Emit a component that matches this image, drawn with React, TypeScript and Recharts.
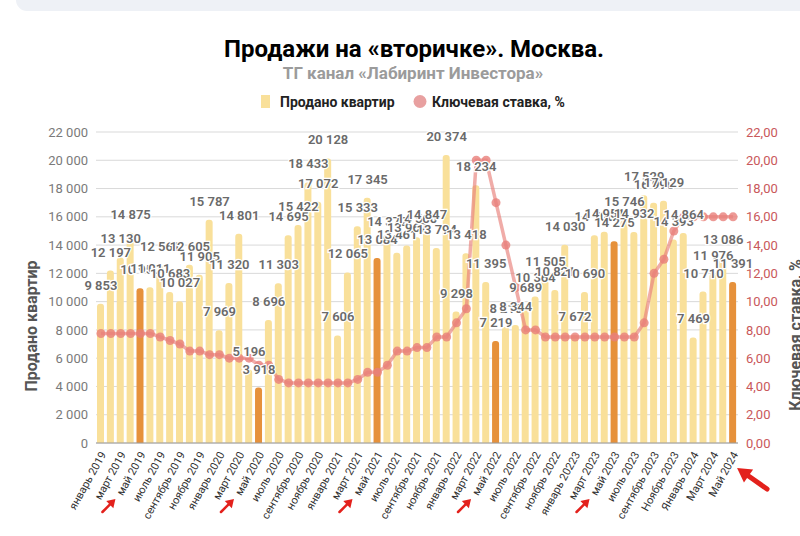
import React from "react";
import {
  ComposedChart,
  Bar,
  Line,
  XAxis,
  YAxis,
  CartesianGrid,
  Cell,
  LabelList,
  ReferenceDot,
} from "recharts";

const months = [
  "январь 2019", "февраль 2019", "март 2019", "апрель 2019", "май 2019", "июнь 2019",
  "июль 2019", "август 2019", "сентябрь 2019", "октябрь 2019", "ноябрь 2019", "декабрь 2019",
  "январь 2020", "февраль 2020", "март 2020", "апрель 2020", "май 2020", "июнь 2020",
  "июль 2020", "август 2020", "сентябрь 2020", "октябрь 2020", "ноябрь 2020", "декабрь 2020",
  "январь 2021", "февраль 2021", "март 2021", "апрель 2021", "май 2021", "июнь 2021",
  "июль 2021", "август 2021", "сентябрь 2021", "октябрь 2021", "ноябрь 2021", "декабрь 2021",
  "январь 2022", "февраль 2022", "март 2022", "апрель 2022", "май 2022", "июнь 2022",
  "июль 2022", "август 2022", "сентябрь 2022", "октябрь 2022", "ноябрь 2022", "декабрь 2022",
  "январь 20223", "февраль 2023", "март 2023", "апрель 2023", "май 2023", "июнь 2023",
  "июль 2023", "август 2023", "сентябрь 2023", "октябрь 2023", "Ноябрь 2023", "декабрь 2023",
  "Январь 2024", "февраль 2024", "Март 2024", "апрель 2024", "Май 2024",
];

const sales = [
  9853, 12197, 13130, 14875, 10950, 11011, 12561, 10683, 10027, 12605, 11905, 15787,
  7969, 11320, 14801, 5196, 3918, 8696, 11303, 14695, 15422, 18433, 17072, 20128,
  7606, 12065, 15333, 17345, 13084, 14372, 13461, 13967, 14560, 14847, 13794, 20374,
  9298, 13418, 18234, 11395, 7219, 8210, 8344, 9689, 10364, 11505, 10821, 14030,
  7672, 10690, 14700, 14951, 14275, 15746, 14932, 17529, 16990, 17129, 14393, 14864,
  7469, 10710, 11976, 13086, 11391,
];

const keyRate = [
  7.75, 7.75, 7.75, 7.75, 7.75, 7.75, 7.5, 7.25, 7.0, 6.5, 6.5, 6.25,
  6.25, 6.0, 6.0, 6.0, 5.5, 5.5, 4.5, 4.25, 4.25, 4.25, 4.25, 4.25,
  4.25, 4.25, 4.5, 5.0, 5.0, 5.5, 6.5, 6.5, 6.75, 6.75, 7.5, 7.5,
  8.5, 9.5, 20, 20, 17, 14, 11, 8, 8, 7.5, 7.5, 7.5,
  7.5, 7.5, 7.5, 7.5, 7.5, 7.5, 7.5, 8.5, 12, 13, 15, 16,
  16, 16, 16, 16, 16,
];

const highlightMonths = ["май 2019", "май 2020", "май 2021", "май 2022", "май 2023", "Май 2024"];
const arrowMonths = ["май 2019", "май 2020", "май 2021", "май 2022", "май 2023", "Май 2024"];

const leftTicks = [0, 2000, 4000, 6000, 8000, 10000, 12000, 14000, 16000, 18000, 20000, 22000];
const rightTicks = [0, 2, 4, 6, 8, 10, 12, 14, 16, 18, 20, 22];

const rows = months.map((m, i) => ({ month: m, sales: sales[i], rate: keyRate[i] }));

const fmtThousands = (v: number) => {
  if (v < 1000) return String(v);
  const th = Math.floor(v / 1000);
  const rest = String(v % 1000).padStart(3, "0");
  return `${th} ${rest}`;
};
const fmtRate = (v: number) => v.toFixed(2).replace(".", ",");

const FONT = "Roboto, 'Noto Sans', sans-serif";

const XTick = (props: any) => {
  const { x, y, payload } = props;
  const tx = x + 3;
  const ty = y + 2;
  return (
    <text
      x={tx}
      y={ty}
      transform={`rotate(-61, ${tx}, ${ty})`}
      textAnchor="end"
      dominantBaseline="middle"
      fontSize={11}
      fill="#333"
      fontFamily={FONT}
    >
      {payload.value}
    </text>
  );
};

const SalesLabel = (props: any) => {
  const { x, y, value } = props;
  if (value == null) return null;
  return (
    <text
      x={x}
      y={y - 14}
      textAnchor="middle"
      fontSize={13}
      fontWeight={600}
      fill="#6a6a6a"
      stroke="#ffffff"
      strokeWidth={2.5}
      paintOrder="stroke"
      fontFamily={FONT}
    >
      {fmtThousands(value)}
    </text>
  );
};

const arrowPath = (hx: number, hy: number, tx: number, ty: number, headLen: number, headW: number) => {
  const dx = hx - tx;
  const dy = hy - ty;
  const len = Math.sqrt(dx * dx + dy * dy);
  const ux = dx / len;
  const uy = dy / len;
  const bx = hx - ux * headLen;
  const by = hy - uy * headLen;
  const px = -uy;
  const py = ux;
  return {
    line: { x1: tx, y1: ty, x2: bx, y2: by },
    head: `${hx},${hy} ${bx + px * headW},${by + py * headW} ${bx - px * headW},${by - py * headW}`,
  };
};

const ArrowShape = (big: boolean) => (props: any) => {
  const { cx, cy } = props;
  if (cx == null || cy == null) return null;
  let a;
  let sw;
  if (big) {
    a = arrowPath(cx + 4, cy + 25, cx + 34, cy + 46, 14, 8);
    sw = 5;
  } else {
    a = arrowPath(cx - 25, cy + 56, cx - 38, cy + 69, 8, 5);
    sw = 2.5;
  }
  return (
    <g>
      <line {...a.line} stroke="#e3211c" strokeWidth={sw} strokeLinecap="round" />
      <polygon points={a.head} fill="#e3211c" />
    </g>
  );
};

export default function App() {
  return (
    <div style={{ position: "absolute", left: 0, top: 0, width: 800, height: 536, background: "#fff", overflow: "hidden" }}>
      <ComposedChart
        width={800}
        height={536}
        data={rows}
        margin={{ top: 132, right: 0, bottom: 0, left: 0 }}
      >
        <CartesianGrid yAxisId="left" vertical={false} stroke="#d9d9d9" />
        <XAxis
          dataKey="month"
          interval={1}
          height={93}
          tick={<XTick />}
          tickLine={false}
          axisLine={{ stroke: "#9a9a9a" }}
        />
        <YAxis
          yAxisId="left"
          domain={[0, 22000]}
          ticks={leftTicks}
          width={96}
          axisLine={false}
          tickLine={false}
          tickFormatter={fmtThousands}
          tick={{ fill: "#7a7a7a", fontSize: 13, fontFamily: FONT }}
        />
        <YAxis
          yAxisId="right"
          orientation="right"
          domain={[0, 22]}
          ticks={rightTicks}
          width={62}
          axisLine={false}
          tickLine={false}
          tickFormatter={fmtRate}
          tick={{ fill: "#c9585a", fontSize: 13, fontFamily: FONT }}
        />
        <Bar yAxisId="left" dataKey="sales" barSize={7} radius={[3, 3, 0, 0]} isAnimationActive={false}>
          {rows.map((r) => (
            <Cell key={r.month} fill={highlightMonths.includes(r.month) ? "#e6913b" : "#f9e09a"} />
          ))}
        </Bar>
        <Line
          yAxisId="right"
          dataKey="rate"
          type="linear"
          stroke="#e8807a"
          strokeOpacity={0.65}
          strokeWidth={3.5}
          dot={{ r: 4.5, fill: "#e8807a", fillOpacity: 0.8, stroke: "none" }}
          activeDot={false}
          isAnimationActive={false}
        />
        <Line
          yAxisId="left"
          dataKey="sales"
          stroke="none"
          dot={false}
          activeDot={false}
          isAnimationActive={false}
        >
          <LabelList dataKey="sales" content={<SalesLabel />} />
        </Line>
        {arrowMonths.map((m, i) => (
          <ReferenceDot
            key={m}
            yAxisId="left"
            x={m}
            y={0}
            r={0}
            ifOverflow="visible"
            shape={ArrowShape(i === arrowMonths.length - 1)}
          />
        ))}
      </ComposedChart>
      <svg width={800} height={536} style={{ position: "absolute", left: 0, top: 0, pointerEvents: "none" }}>
        <rect x={16} y={-12} width={800} height={23} rx={11} fill="#eef1f6" />
        <text x={414} y={57} textAnchor="middle" fontSize={24} fontWeight={700} fill="#000" fontFamily={FONT}>
          Продажи на «вторичке». Москва.
        </text>
        <text x={413} y={79} textAnchor="middle" fontSize={17} fontWeight={700} fill="#9b9b9b" fontFamily={FONT}>
          ТГ канал «Лабиринт Инвестора»
        </text>
        <rect x={261} y={95} width={9} height={13} fill="#f9e09a" />
        <text x={280} y={107} fontSize={14} fontWeight={700} fill="#222" fontFamily={FONT}>
          Продано квартир
        </text>
        <circle cx={420} cy={101.5} r={6.5} fill="#e8a0a0" />
        <text x={432} y={107} fontSize={14} fontWeight={700} fill="#222" fontFamily={FONT}>
          Ключевая ставка, %
        </text>
        <text
          x={37}
          y={326}
          transform="rotate(-90, 37, 326)"
          textAnchor="middle"
          fontSize={16}
          fontWeight={700}
          fill="#555"
          fontFamily={FONT}
        >
          Продано квартир
        </text>
        <text
          x={801}
          y={335}
          transform="rotate(-90, 801, 335)"
          textAnchor="middle"
          fontSize={16}
          fontWeight={700}
          fill="#555"
          fontFamily={FONT}
        >
          Ключевая ставка, %
        </text>
      </svg>
    </div>
  );
}
